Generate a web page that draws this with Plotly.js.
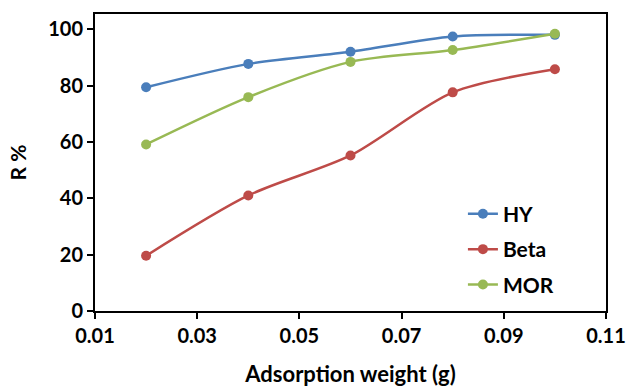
<!DOCTYPE html>
<html>
<head>
<meta charset="utf-8">
<script src="https://cdn.plot.ly/plotly-3.0.1.min.js"></script>
<style>html,body{margin:0;padding:0;background:#fff;}#chart{width:627px;height:389px;}</style>
</head>
<body>
<div id="chart"></div>
<script>
const weights = [0.02, 0.04, 0.06, 0.08, 0.10];
const hyValues = [79.4, 87.7, 92.0, 97.4, 98.0];
const betaValues = [19.6, 41.0, 55.2, 77.6, 85.8];
const morValues = [59.1, 75.9, 88.4, 92.6, 98.4];
const seriesNames = ["HY", "Beta", "MOR"];
const xTicks = [0.01, 0.03, 0.05, 0.07, 0.09, 0.11];
const xTickLabels = ["0.01", "0.03", "0.05", "0.07", "0.09", "0.11"];
const yTicks = [0, 20, 40, 60, 80, 100];

const colors = ["#4a7ebb", "#be4b48", "#98b954"];
const allValues = [hyValues, betaValues, morValues];
const traces = allValues.map((v, i) => ({
  x: weights, y: v, name: seriesNames[i], legendgroup: seriesNames[i],
  type: "scatter", mode: "lines+markers",
  line: {color: colors[i], width: 2.5, shape: "spline", smoothing: 0.8},
  marker: {color: colors[i], size: 10}
}));

const fam = "Lato, 'Open Sans', sans-serif";
const layout = {
  width: 627, height: 389,
  margin: {l: 95, r: 21, t: 14, b: 78},
  paper_bgcolor: "#fff", plot_bgcolor: "#fff",
  font: {family: fam, size: 18, color: "#000"},
  showlegend: true,
  legend: {x: 0.72, y: 0.395, xanchor: "left", yanchor: "top", bgcolor: "rgba(0,0,0,0)",
    traceorder: "grouped", tracegroupgap: 5,
    font: {family: fam, size: 21, color: "#000", weight: "bold"}},
  xaxis: {
    range: [0.01, 0.11], tickvals: xTicks, ticktext: xTickLabels,
    showgrid: false, zeroline: false, showline: true, linecolor: "#000", linewidth: 2, mirror: true,
    ticks: "outside", ticklen: 6, tickwidth: 2, tickcolor: "#000",
    tickfont: {family: fam, size: 20, color: "#000", weight: "bold"},
    title: {text: "Adsorption weight (g)", standoff: 21, font: {family: fam, size: 22, color: "#000", weight: "bold"}}
  },
  yaxis: {
    range: [0, 105.4], tickvals: yTicks,
    showgrid: false, zeroline: false, showline: true, linecolor: "#000", linewidth: 2, mirror: true,
    ticks: "outside", ticklen: 6, tickwidth: 2, tickcolor: "#000",
    tickfont: {family: fam, size: 20, color: "#000", weight: "bold"},
    title: {text: "R %", standoff: 16, font: {family: fam, size: 21, color: "#000", weight: "bold"}}
  }
};
Plotly.newPlot("chart", traces, layout, {displayModeBar: false, staticPlot: true});
</script>
</body>
</html>
